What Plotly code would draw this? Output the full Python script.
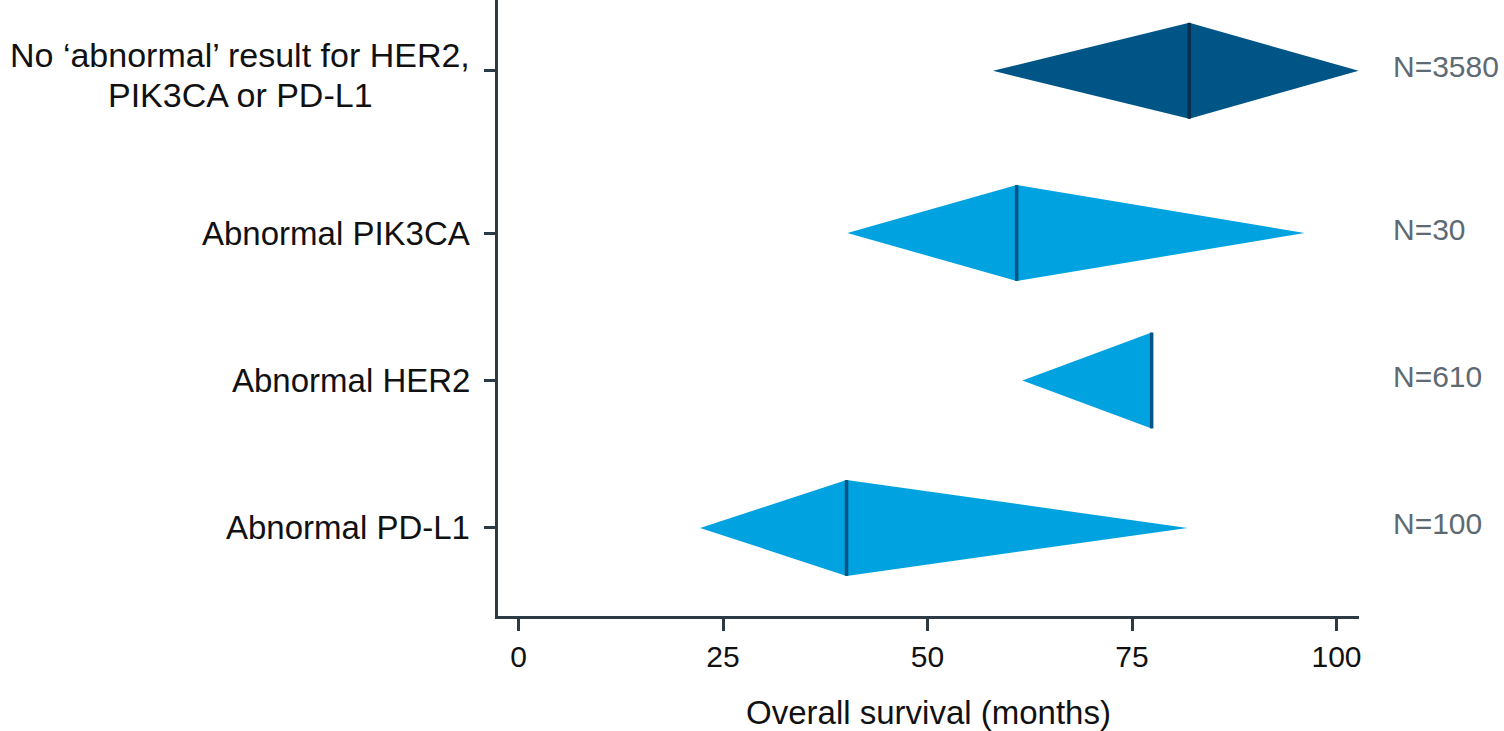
import plotly.graph_objects as go

# ---- data ----
categories = ["No \u2018abnormal\u2019 result for HER2,<br>PIK3CA or PD-L1",
              "Abnormal PIK3CA", "Abnormal HER2", "Abnormal PD-L1"]
row_pos = [3.1, 2.0, 1.0, 0.0]
ci_low = [58.0, 40.2, 61.6, 22.2]
median_os = [82.0, 60.9, 77.4, 40.1]
ci_high = [102.7, 96.1, 77.4, 81.8]
n_labels = ["N=3580", "N=30", "N=610", "N=100"]
x_ticks = [0, 25, 50, 75, 100]

fill_colors = ["#005587", "#00A3E0", "#00A3E0", "#00A3E0"]
line_colors = ["#0A2F4E", "#005587", "#005587", "#005587"]
AXIS = "#2B3A44"
FONT = "Liberation Sans, Arial, sans-serif"
HALF = 0.325
PLOT_L = 498
PLOT_W = 861

fig = go.Figure()
for i, cat in enumerate(categories):
    y0 = row_pos[i]
    fig.add_trace(go.Scatter(
        x=[ci_low[i], median_os[i], ci_high[i], median_os[i], ci_low[i]],
        y=[y0, y0 + HALF, y0, y0 - HALF, y0],
        fill="toself", fillcolor=fill_colors[i], mode="lines",
        line=dict(width=0, color=fill_colors[i]), hoverinfo="skip", showlegend=False))
    fig.add_trace(go.Scatter(
        x=[median_os[i], median_os[i]], y=[y0 - HALF, y0 + HALF],
        mode="lines", line=dict(width=3.5, color=line_colors[i]),
        hoverinfo="skip", showlegend=False))
    lines = cat.split("<br>")
    if len(lines) == 1:
        fig.add_annotation(x=(472 - PLOT_L) / PLOT_W, xref="paper", y=y0, yref="y", text=cat,
                           xanchor="right", yanchor="middle", showarrow=False,
                           font=dict(family=FONT, size=33, color="#111111"))
    else:
        shifts = [16, -24]
        for ln, sh in zip(lines, shifts):
            fig.add_annotation(x=(240 - PLOT_L) / PLOT_W, xref="paper", y=y0, yref="y", text=ln,
                               xanchor="center", yanchor="middle", showarrow=False, yshift=sh,
                               font=dict(family=FONT, size=34, color="#111111"))
    fig.add_annotation(x=(1391 - PLOT_L) / PLOT_W, xref="paper", y=y0, yref="y", text=n_labels[i],
                       xanchor="left", yanchor="middle", showarrow=False, yshift=4,
                       font=dict(family=FONT, size=30, color="#5E6A73"))

fig.update_layout(
    width=1504, height=731,
    margin=dict(l=PLOT_L, r=1504 - PLOT_L - PLOT_W, t=0, b=115),
    plot_bgcolor="white", paper_bgcolor="white",
    font=dict(family=FONT, size=30, color="#111111"),
    xaxis=dict(range=[-2.51, 102.75], tickvals=x_ticks, ticktext=[str(t) for t in x_ticks],
               showline=True, linecolor=AXIS, linewidth=3, ticks="outside", ticklen=12,
               tickwidth=3, tickcolor=AXIS, showgrid=False, zeroline=False,
               tickfont=dict(family=FONT, size=30, color="#111111"),
               title=dict(text="Overall survival (months)", standoff=33,
                          font=dict(family=FONT, size=33, color="#111111"))),
    yaxis=dict(range=[-0.597, 3.58], tickvals=row_pos, showticklabels=False,
               showline=True, linecolor=AXIS, linewidth=3, ticks="outside", ticklen=11,
               tickwidth=3, tickcolor=AXIS, showgrid=False, zeroline=False),
)

fig.write_html("out.html", config={"displayModeBar": False},
               post_script="document.body.style.margin='0px';document.body.style.padding='0px';")
